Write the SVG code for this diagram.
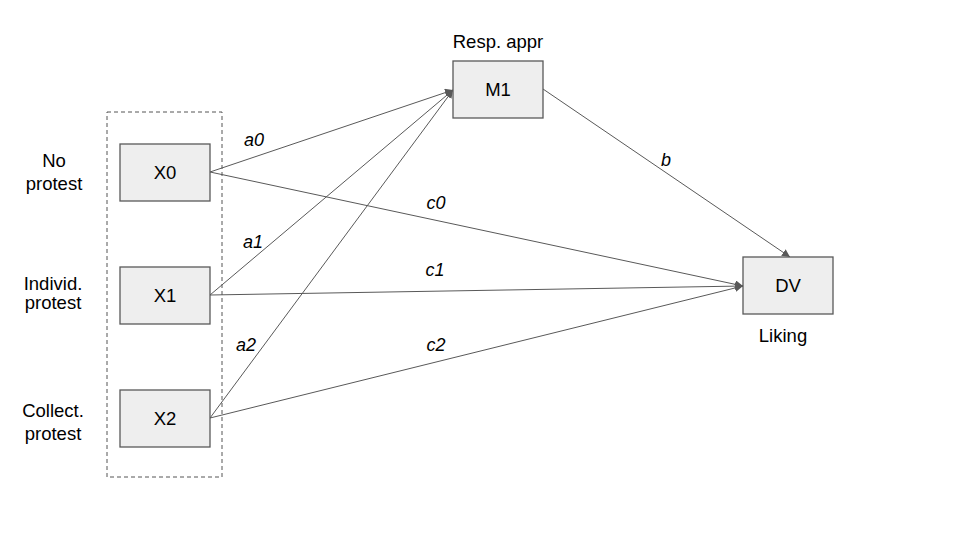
<svg xmlns="http://www.w3.org/2000/svg" width="960" height="540" viewBox="0 0 960 540">
<defs>
<marker id="ah" viewBox="0 0 10 10" refX="10" refY="5" markerWidth="8" markerHeight="8" markerUnits="userSpaceOnUse" orient="auto">
<path d="M0,0 L10,5 L0,10 z" fill="#595959"/>
</marker>
<style>
.node{fill:#eeeeee;stroke:#595959;stroke-width:1.3}
.t{font-family:"Liberation Sans",Arial,sans-serif;font-size:18.5px;fill:#000;text-anchor:middle}
.lab{font-family:"Liberation Sans",Arial,sans-serif;font-size:18px;font-style:italic;fill:#000;text-anchor:middle}
.e{stroke:#595959;stroke-width:1;fill:none;marker-end:url(#ah)}
</style>
</defs>
<rect width="960" height="540" fill="#fff"/>
<rect x="107" y="112" width="115" height="365" fill="none" stroke="#555" stroke-width="1" stroke-dasharray="4,3"/>
<g id="edges">
<line class="e" x1="210" y1="172" x2="453" y2="90"/>
<line class="e" x1="210" y1="295" x2="453" y2="90"/>
<line class="e" x1="210" y1="418" x2="453" y2="90"/>
<line class="e" x1="210" y1="172" x2="743" y2="286"/>
<line class="e" x1="210" y1="295" x2="743" y2="286"/>
<line class="e" x1="210" y1="418" x2="743" y2="286"/>
<line class="e" x1="543" y1="89" x2="790" y2="257"/>
<text class="lab" x="254" y="146">a0</text>
<text class="lab" x="253" y="248">a1</text>
<text class="lab" x="246" y="351">a2</text>
<text class="lab" x="436" y="209">c0</text>
<text class="lab" x="435" y="276">c1</text>
<text class="lab" x="436" y="351">c2</text>
<text class="lab" x="666" y="166">b</text>
</g>
<g id="X0"><rect class="node" x="120" y="144" width="90" height="57"/><text class="t" x="165" y="179">X0</text></g>
<g id="X1"><rect class="node" x="120" y="267" width="90" height="57"/><text class="t" x="165" y="302">X1</text></g>
<g id="X2"><rect class="node" x="120" y="390" width="90" height="57"/><text class="t" x="165" y="425">X2</text></g>
<g id="M1"><rect class="node" x="453" y="61" width="90" height="57"/><text class="t" x="498" y="96">M1</text><text class="t" x="498" y="48">Resp. appr</text></g>
<g id="DV"><rect class="node" x="743" y="257" width="90" height="57"/><text class="t" x="788" y="292">DV</text><text class="t" x="783" y="342">Liking</text></g>
<g id="labels">
<text class="t" x="54" y="167">No</text><text class="t" x="54" y="190">protest</text>
<text class="t" x="53" y="290">Individ.</text><text class="t" x="53" y="309">protest</text>
<text class="t" x="53" y="417">Collect.</text><text class="t" x="53" y="440">protest</text>
</g>
</svg>
